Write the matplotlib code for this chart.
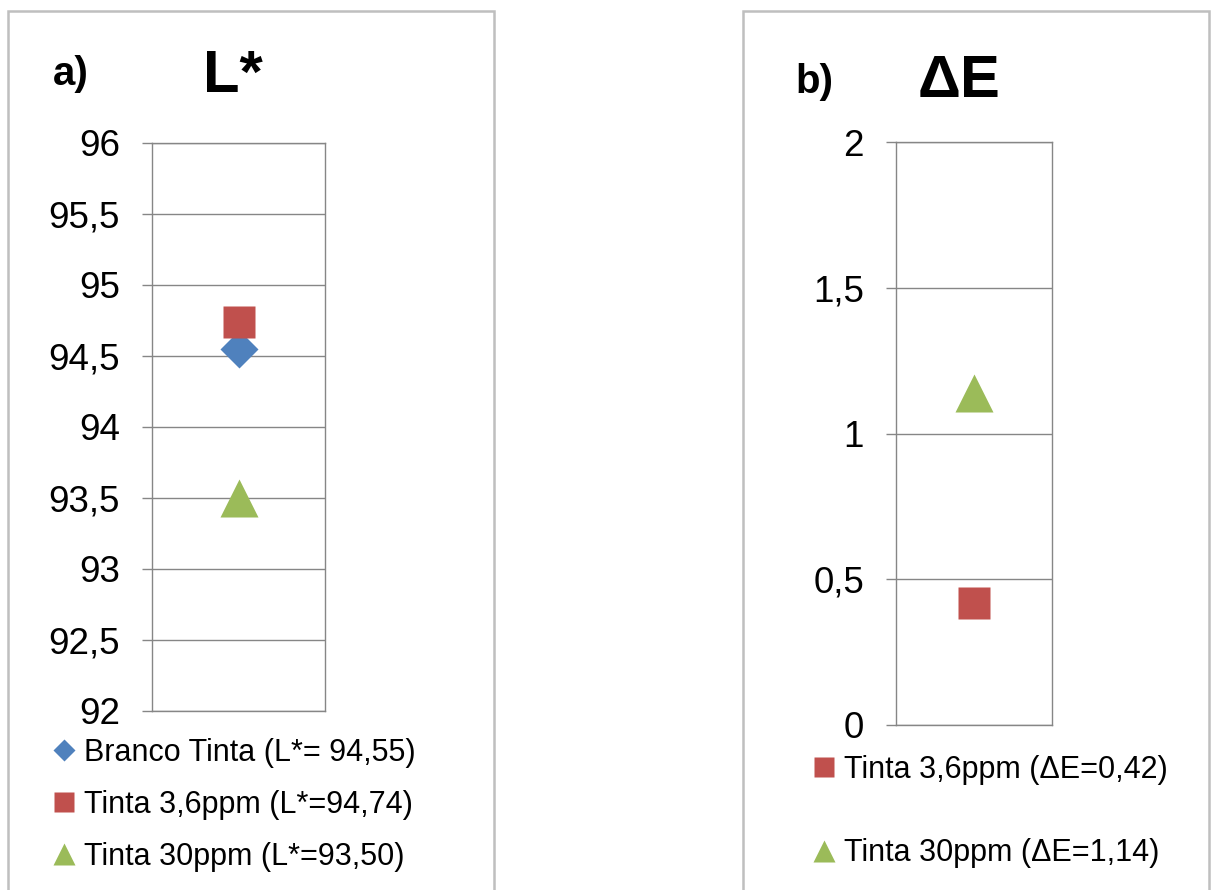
import matplotlib
matplotlib.use("Agg")
import matplotlib.pyplot as plt
from matplotlib.patches import Rectangle

plt.rcParams['font.family'] = ['Liberation Sans', 'DejaVu Sans']

# data
labels_a = ["Branco Tinta (L*= 94,55)", "Tinta 3,6ppm (L*=94,74)", "Tinta 30ppm (L*=93,50)"]
values_a = [94.55, 94.74, 93.50]
labels_b = ["Tinta 3,6ppm (\u0394E=0,42)", "Tinta 30ppm (\u0394E=1,14)"]
values_b = [0.42, 1.14]
ticks_a = [92, 92.5, 93, 93.5, 94, 94.5, 95, 95.5, 96]
ticks_b = [0, 0.5, 1, 1.5, 2]

blue = '#4F81BD'
red = '#C0504D'
green = '#9BBB59'
grid_c = '#868686'

W, H = 1211, 890
fig = plt.figure(figsize=(W / 100, H / 100), dpi=100)

def px(x0, y0, x1, y1):
    # pixel box (top-left origin) -> figure fraction
    return [x0 / W, 1 - y1 / H, (x1 - x0) / W, (y1 - y0) / H]

# outer panel frames
for x0, x1 in [(8, 494), (743, 1209)]:
    fig.patches.append(Rectangle((x0 / W, -0.05), (x1 - x0) / W, 1.05 - 11 / H,
                                 transform=fig.transFigure, fill=False,
                                 edgecolor='#BFBFBF', lw=1.8))

def style(ax, ticks, lo, hi):
    ax.set_xlim(-0.5, 0.5)
    ax.set_ylim(lo, hi)
    ax.set_yticks(ticks)
    ax.set_yticklabels([('%g' % t).replace('.', ',') for t in ticks])
    ax.set_xticks([])
    ax.grid(axis='y', color=grid_c, lw=1.0)
    ax.set_axisbelow(True)
    for s in ax.spines.values():
        s.set_color(grid_c)
        s.set_linewidth(1.0)
    ax.tick_params(axis='y', direction='out', length=7, width=1.0, color=grid_c,
                   labelsize=26.5, pad=16)

leg_kw = dict(loc='upper left', bbox_transform=fig.transFigure, frameon=False, fontsize=22,
              markerscale=0.6, handlelength=0.9, handletextpad=0.2, borderpad=0,
              borderaxespad=0, numpoints=1)

# panel a
ax1 = fig.add_axes(px(152, 143, 325, 711))
style(ax1, ticks_a, 92, 96)
ax1.plot([0], [values_a[0]], 'D', color=blue, ms=19, mec='none', label=labels_a[0], zorder=2)
ax1.plot([0], [values_a[1]], 's', color=red, ms=23, mec='none', label=labels_a[1], zorder=3)
ax1.plot([0], [values_a[2]], '^', color=green, ms=27, mec='none', label=labels_a[2], zorder=3)
ax1.legend(bbox_to_anchor=(50 / W, 1 - 738 / H), labelspacing=0.72, **leg_kw)

fig.text(53 / W, 1 - 85 / H, 'a)', fontsize=29, fontweight='bold', va='baseline')
fig.text(203 / W, 1 - 92 / H, 'L*', fontsize=43, fontweight='bold', va='baseline')

# panel b
ax2 = fig.add_axes(px(896, 142, 1052, 725))
style(ax2, ticks_b, 0, 2)
ax2.plot([0], [values_b[0]], 's', color=red, ms=23, mec='none', label=labels_b[0])
ax2.plot([0], [values_b[1]], '^', color=green, ms=27, mec='none', label=labels_b[1])
ax2.legend(bbox_to_anchor=(810 / W, 1 - 755 / H), labelspacing=1.75, **leg_kw)

fig.text(795 / W, 1 - 93 / H, 'b)', fontsize=29, fontweight='bold', va='baseline')
fig.text(918 / W, 1 - 97 / H, '\u0394E', fontsize=43, fontweight='bold', va='baseline')

plt.savefig("out.png", dpi=100)
